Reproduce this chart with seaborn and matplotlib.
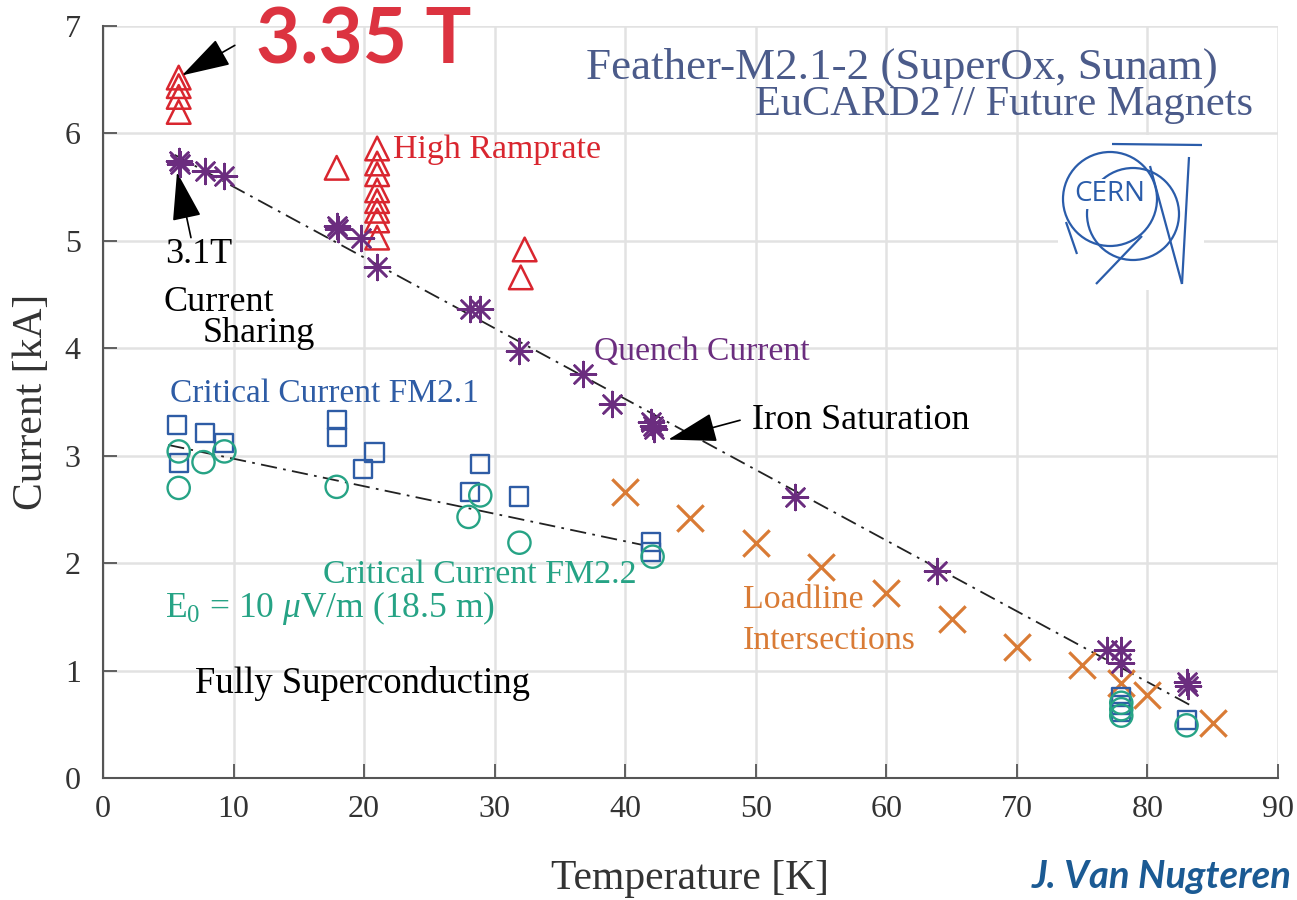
import matplotlib
matplotlib.use("Agg")
import matplotlib.pyplot as plt
from matplotlib.patches import Circle
import seaborn as sns

# ---- measurement data -------------------------------------------------------
ramp_T = [5.8, 5.8, 5.8, 5.8, 17.9, 21.0, 21.0, 21.0, 21.0, 21.0, 21.0, 21.0, 21.0, 32.3, 32.0]
ramp_I = [6.52, 6.44, 6.34, 6.20, 5.68, 5.86, 5.72, 5.62, 5.47, 5.37, 5.28, 5.19, 5.03, 4.92, 4.66]

quench_T = [5.8, 5.9, 7.8, 9.3, 17.9, 18.0, 19.8, 21.0, 28.1, 28.9, 31.9, 36.8, 39.0,
            42.0, 42.1, 42.2, 53.0, 63.9, 76.9, 78.0, 78.0, 83.0, 83.1]
quench_I = [5.74, 5.72, 5.65, 5.60, 5.14, 5.11, 5.03, 4.76, 4.37, 4.37, 3.97, 3.76, 3.48,
            3.31, 3.28, 3.25, 2.62, 1.93, 1.19, 1.19, 1.07, 0.89, 0.86]

fm21_T = [5.7, 7.8, 9.3, 5.8, 17.9, 17.9, 19.9, 20.8, 28.1, 28.9, 31.9, 42.0, 42.0,
          78.0, 78.0, 78.0, 83.0]
fm21_I = [3.29, 3.21, 3.12, 2.93, 3.33, 3.17, 2.88, 3.03, 2.66, 2.92, 2.62, 2.20, 2.10,
          0.75, 0.68, 0.61, 0.54]

fm22_T = [5.8, 5.8, 7.7, 9.3, 17.9, 28.0, 28.9, 31.9, 42.1, 78.0, 78.0, 78.0, 83.0]
fm22_I = [3.04, 2.70, 2.94, 3.04, 2.71, 2.43, 2.63, 2.19, 2.06, 0.70, 0.64, 0.58, 0.49]

loadline_T = [40, 45, 50, 55, 60, 65, 70, 75, 78, 80, 85]
loadline_I = [2.66, 2.42, 2.19, 1.96, 1.72, 1.48, 1.22, 1.05, 0.88, 0.77, 0.51]

# linear trend guides
quench_fit_T = [5.5, 83.4]
quench_fit_I = [5.80, 0.67]
crit_fit_T = [5.0, 41.3]
crit_fit_I = [3.10, 2.17]

x_ticks = [0, 10, 20, 30, 40, 50, 60, 70, 80, 90]
y_ticks = [0, 1, 2, 3, 4, 5, 6, 7]

# ---- colours ----------------------------------------------------------------
RED = "#d9262f"
PURPLE = "#6b2d7f"
BLUE = "#2e5ca5"
GREEN = "#26a385"
ORANGE = "#d97b35"
SLATE = "#4b5b8a"

sns.set_theme(style="white")
plt.rcParams["font.family"] = ["Liberation Serif", "DejaVu Serif"]
plt.rcParams["mathtext.fontset"] = "custom"
plt.rcParams["mathtext.rm"] = "Liberation Serif"
plt.rcParams["mathtext.it"] = "Liberation Serif:italic"

fig = plt.figure(figsize=(12.97, 9.0), dpi=100)
ax = fig.add_axes([0.0794, 0.1356, 0.9059, 0.8355])

# trend lines
dashdot = (0, (9, 3.5, 1.5, 3.5))
sns.lineplot(x=quench_fit_T, y=quench_fit_I, ax=ax, color="#222222", lw=1.3,
             linestyle=dashdot, zorder=2)
sns.lineplot(x=crit_fit_T, y=crit_fit_I, ax=ax, color="#222222", lw=1.3,
             linestyle=dashdot, zorder=2)

# data series
sns.scatterplot(x=loadline_T, y=loadline_I, ax=ax, marker="x", s=19**2,
                color=ORANGE, linewidth=2.3, zorder=3)
sns.scatterplot(x=ramp_T, y=ramp_I, ax=ax, marker="^", s=17**2, color=RED,
                facecolor="none", edgecolor=RED, linewidth=1.8, zorder=3)
sns.scatterplot(x=fm21_T, y=fm21_I, ax=ax, marker="s", s=13**2, color=BLUE,
                facecolor="none", edgecolor=BLUE, linewidth=1.7, zorder=4)
sns.scatterplot(x=fm22_T, y=fm22_I, ax=ax, marker="o", s=16**2, color=GREEN,
                facecolor="none", edgecolor=GREEN, linewidth=1.7, zorder=5)
sns.scatterplot(x=quench_T, y=quench_I, ax=ax, marker=(8, 2, 0), s=18**2,
                color=PURPLE, linewidth=1.8, zorder=6)

# axes styling
ax.set_xlim(0, 90)
ax.set_ylim(0, 7)
ax.set_xticks(x_ticks)
ax.set_yticks(y_ticks)
ax.grid(True, color="#e2e2e2", lw=1.8, zorder=0)
for side in ("top", "right"):
    ax.spines[side].set_visible(False)
for side in ("left", "bottom"):
    ax.spines[side].set_color("#555555")
    ax.spines[side].set_linewidth(1.5)
ax.tick_params(axis="both", direction="in", length=10, width=1.3, color="#555555",
               labelsize=23, labelcolor="#333333", left=True, bottom=True)
ax.tick_params(axis="x", pad=12)
ax.tick_params(axis="y", pad=16)
ax.set_xlabel("Temperature [K]", fontsize=30, color="#333333", labelpad=26)
ax.set_ylabel("Current [kA]", fontsize=30, color="#333333", labelpad=10)

# annotations
ax.text(4.75, 4.87, "3.1T", fontsize=26, color="black", va="center")
ax.text(4.6, 4.43, "Current", fontsize=26, color="black", va="center")
ax.text(7.66, 4.14, "Sharing", fontsize=26, color="black", va="center")
ax.text(22.2, 5.85, "High Ramprate", fontsize=24.4, color=RED, va="center")
ax.text(37.6, 3.97, "Quench Current", fontsize=24.2, color=PURPLE, va="center")
ax.text(49.7, 3.33, "Iron Saturation", fontsize=26, color="black", va="center")
ax.text(5.13, 3.58, "Critical Current FM2.1", fontsize=24, color=BLUE, va="center")
ax.text(16.85, 1.89, "Critical Current FM2.2", fontsize=24.4, color=GREEN, va="center")
ax.text(4.75, 1.58, r"E$_{0}$ = 10 $\mathit{\mu}$V/m (18.5 m)", fontsize=25.6,
        color=GREEN, va="center")
ax.text(7.05, 0.88, "Fully Superconducting", fontsize=26.4, color="black", va="center")
ax.text(49.0, 1.66, "Loadline", fontsize=24.4, color=ORANGE, va="center")
ax.text(49.0, 1.28, "Intersections", fontsize=24.4, color=ORANGE, va="center")

ax.text(85.4, 6.61, "Feather-M2.1-2 (SuperOx, Sunam)", fontsize=32.4, color=SLATE,
        ha="right", va="center")
ax.text(88.1, 6.27, "EuCARD2 // Future Magnets", fontsize=30.5, color=SLATE,
        ha="right", va="center")

arrow = dict(arrowstyle="-|>,head_length=1.4,head_width=0.42", color="black",
             lw=1.2, mutation_scale=22, shrinkA=0, shrinkB=0)
ax.annotate("", xy=(6.05, 6.54), xytext=(10.1, 6.82), arrowprops=arrow)
ax.annotate("", xy=(5.67, 5.64), xytext=(6.74, 5.03), arrowprops=arrow)
ax.annotate("", xy=(43.3, 3.15), xytext=(48.8, 3.33), arrowprops=arrow)

fig.text(256 / 1297, 1 - 42 / 900, "3.35 T", family=["Lato", "DejaVu Sans"],
         fontweight="bold", fontsize=55, color="#dc3340", ha="left", va="center")
fig.text(1032 / 1297, 1 - 877 / 900, "J. Van Nugteren", family=["Lato", "DejaVu Sans"],
         fontweight="bold", fontstyle="italic", fontsize=27.5, color="#1b5a93",
         ha="left", va="center")

# CERN emblem on a white tile
lg = fig.add_axes([1058 / 1297, 1 - 290 / 900, 146 / 1297, 155 / 900])
lg.set_xlim(1058, 1204)
lg.set_ylim(290, 135)
lg.set_facecolor("white")
lg.set_xticks([])
lg.set_yticks([])
for sp in lg.spines.values():
    sp.set_visible(False)
LOGO = "#2a5caa"
lg.add_patch(Circle((1110, 199), 47, fill=False, ec=LOGO, lw=1.6))
lg.add_patch(Circle((1133, 214), 46, fill=False, ec=LOGO, lw=1.6))
for (x0, y0, x1, y1) in [(1112, 144, 1202, 145), (1189, 157, 1182, 284),
                         (1150, 166, 1182, 284), (1142, 236, 1096, 284),
                         (1066, 222, 1077, 254)]:
    lg.plot([x0, x1], [y0, y1], color=LOGO, lw=1.6, solid_capstyle="butt")
lg.text(1110, 194, "CERN", family=["Open Sans", "DejaVu Sans"], fontsize=20,
        color=LOGO, ha="center", va="center",
        bbox=dict(facecolor="white", edgecolor="none", pad=0.5))

fig.savefig("out.png", dpi=100, facecolor="white")
